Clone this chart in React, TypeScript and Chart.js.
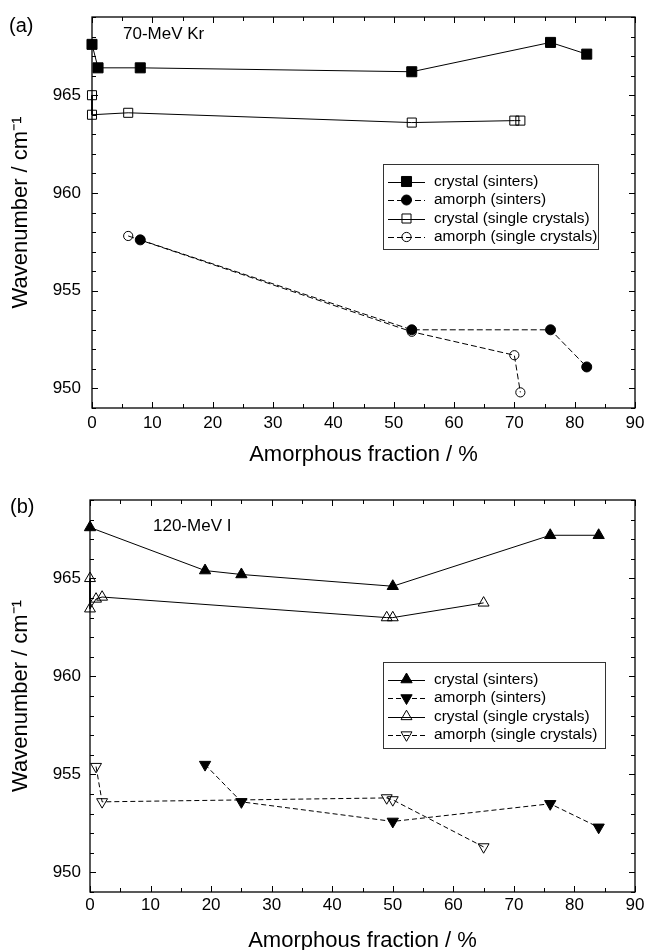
import React, { useEffect, useRef } from 'react';
import { Chart, registerables } from 'chart.js';

Chart.register(...registerables);

const FONT = "'Liberation Sans', Arial, Helvetica, sans-serif";

// ---------- Panel (a): 70-MeV Kr ----------
const aCrystalSintersX = [0, 1, 8, 53, 76, 82];
const aCrystalSintersY = [967.6, 966.4, 966.4, 966.2, 967.7, 967.1];
const aAmorphSintersX = [8, 53, 76, 82];
const aAmorphSintersY = [957.6, 953.0, 953.0, 951.1];
const aCrystalSingleX = [0, 0, 6, 53, 70, 71];
const aCrystalSingleY = [965.0, 964.0, 964.1, 963.6, 963.7, 963.7];
const aAmorphSingleX = [6, 53, 70, 71];
const aAmorphSingleY = [957.8, 952.9, 951.7, 949.8];

// ---------- Panel (b): 120-MeV I ----------
const bCrystalSintersX = [0, 19, 25, 50, 76, 84];
const bCrystalSintersY = [967.6, 965.4, 965.2, 964.6, 967.2, 967.2];
const bAmorphSintersX = [19, 25, 50, 76, 84];
const bAmorphSintersY = [955.5, 953.6, 952.6, 953.5, 952.3];
const bCrystalSingleX = [0, 0, 1, 2, 49, 50, 65];
const bCrystalSingleY = [965.0, 963.45, 963.95, 964.05, 963.0, 963.0, 963.75];
const bAmorphSingleX = [1, 2, 49, 50, 65];
const bAmorphSingleY = [955.4, 953.6, 953.8, 953.7, 951.3];

const legendLabels = [
  'crystal (sinters)',
  'amorph (sinters)',
  'crystal (single crystals)',
  'amorph (single crystals)',
];

const xMajorTicks = [0, 10, 20, 30, 40, 50, 60, 70, 80, 90];
const xMinorTicks = [5, 15, 25, 35, 45, 55, 65, 75, 85];
const yMajorTicks = [950, 955, 960, 965];
const yMinorTicks = [949, 951, 952, 953, 954, 956, 957, 958, 959, 961, 962, 963, 964, 966, 967, 968, 969];

const xTitle = 'Amorphous fraction / %';
const yTitle = 'Wavenumber / cm\u207B\u00B9';

function pts(xs: number[], ys: number[]) {
  return xs.map((x, i) => ({ x, y: ys[i] }));
}

function drawMarker(ctx: CanvasRenderingContext2D, style: string, x: number, y: number, r: number, rot: number, fill: string | null, stroke: string, bw: number) {
  ctx.beginPath();
  if (style === 'rect') {
    const s = r * Math.SQRT1_2;
    ctx.rect(x - s, y - s, 2 * s, 2 * s);
  } else if (style === 'circle') {
    ctx.arc(x, y, r, 0, Math.PI * 2);
  } else {
    let rad = (rot * Math.PI) / 180;
    ctx.moveTo(x + Math.sin(rad) * r, y - Math.cos(rad) * r);
    rad += (2 * Math.PI) / 3;
    ctx.lineTo(x + Math.sin(rad) * r, y - Math.cos(rad) * r);
    rad += (2 * Math.PI) / 3;
    ctx.lineTo(x + Math.sin(rad) * r, y - Math.cos(rad) * r);
    ctx.closePath();
  }
  if (fill) {
    ctx.fillStyle = fill;
    ctx.fill();
  }
  ctx.lineWidth = bw;
  ctx.strokeStyle = stroke;
  ctx.setLineDash([]);
  ctx.stroke();
}

const framePlugin = {
  id: 'frameTicks',
  beforeDatasetsDraw(chart: any) {
    const { ctx, chartArea } = chart;
    const { left, right, top, bottom } = chartArea;
    const xs = chart.scales.x;
    const ys = chart.scales.y;
    ctx.save();
    ctx.strokeStyle = '#000';
    ctx.lineWidth = 1;
    ctx.setLineDash([]);
    const a = (v: number) => Math.round(v) + 0.5;
    ctx.beginPath();
    const xt = (vals: number[], len: number) => {
      vals.forEach((v) => {
        const px = a(xs.getPixelForValue(v));
        ctx.moveTo(px, bottom);
        ctx.lineTo(px, bottom - len);
        ctx.moveTo(px, top);
        ctx.lineTo(px, top + len);
      });
    };
    const yt = (vals: number[], len: number) => {
      vals.forEach((v) => {
        const py = a(ys.getPixelForValue(v));
        ctx.moveTo(left, py);
        ctx.lineTo(left + len, py);
        ctx.moveTo(right, py);
        ctx.lineTo(right - len, py);
      });
    };
    xt(xMajorTicks, 6);
    xt(xMinorTicks, 4);
    yt(yMajorTicks, 6);
    yt(yMinorTicks, 4);
    ctx.stroke();
    ctx.lineWidth = 1.3;
    ctx.strokeRect(a(left) - 0.5, a(top) - 0.5, Math.round(right - left), Math.round(bottom - top));
    ctx.restore();
  },
};

const legendPlugin = {
  id: 'boxLegend',
  afterDraw(chart: any, _args: any, opts: any) {
    const { ctx } = chart;
    ctx.save();
    ctx.setLineDash([]);
    ctx.lineWidth = 1;
    ctx.strokeStyle = '#333';
    ctx.fillStyle = '#fff';
    ctx.fillRect(opts.x, opts.y, opts.w, opts.h);
    ctx.strokeRect(opts.x + 0.5, opts.y + 0.5, opts.w, opts.h);
    chart.data.datasets.forEach((ds: any, i: number) => {
      const ry = opts.y + opts.rows[i];
      ctx.beginPath();
      ctx.setLineDash(ds.borderDash || []);
      ctx.strokeStyle = ds.borderColor;
      ctx.lineWidth = ds.borderWidth;
      ctx.moveTo(opts.lineX1, Math.round(ry) + 0.5);
      ctx.lineTo(opts.lineX2, Math.round(ry) + 0.5);
      ctx.stroke();
      const mx = (opts.lineX1 + opts.lineX2) / 2;
      const fill = ds.pointBackgroundColor === 'rgba(0,0,0,0)' ? null : ds.pointBackgroundColor;
      drawMarker(ctx, ds.pointStyle, mx, ry, ds.pointRadius, ds.pointRotation || 0, fill, ds.pointBorderColor, ds.pointBorderWidth);
      ctx.fillStyle = '#000';
      ctx.font = `${opts.fontSize}px ${FONT}`;
      ctx.textBaseline = 'middle';
      ctx.textAlign = 'left';
      ctx.fillText(ds.label, opts.textX, ry);
    });
    ctx.restore();
  },
};

const textPlugin = {
  id: 'panelText',
  afterDraw(chart: any, _args: any, opts: any) {
    const { ctx } = chart;
    ctx.save();
    ctx.fillStyle = '#000';
    ctx.textBaseline = 'middle';
    ctx.textAlign = 'left';
    (opts.items || []).forEach((t: any) => {
      ctx.font = `${t.size}px ${FONT}`;
      ctx.fillText(t.text, t.x, t.y);
    });
    ctx.restore();
  },
};

type Series = { xs: number[]; ys: number[]; style: string; rot: number; r: number; filled: boolean; dash: number[] };

function makeConfig(p: {
  series: Series[];
  yAxisWidth: number;
  xAxisHeight: number;
  padTop: number;
  yLabelPad: number;
  xLabelPad: number;
  xTitleLH: number;
  xTitlePadBottom: number;
  legend: any;
  texts: any[];
}): any {
  const datasets = p.series.map((s, i) => ({
    label: legendLabels[i],
    data: pts(s.xs, s.ys),
    showLine: true,
    borderColor: '#000',
    borderWidth: 1,
    borderDash: s.dash,
    pointStyle: s.style,
    pointRotation: s.rot,
    pointRadius: s.r,
    pointHoverRadius: s.r,
    pointBackgroundColor: s.filled ? '#000' : 'rgba(0,0,0,0)',
    pointBorderColor: '#000',
    pointBorderWidth: 1,
    clip: false,
    fill: false,
    tension: 0,
  }));
  return {
    type: 'scatter',
    data: { datasets },
    options: {
      animation: false,
      responsive: false,
      devicePixelRatio: 1,
      events: [],
      layout: { padding: { top: p.padTop, right: 10, left: 0, bottom: 0 } },
      plugins: {
        legend: { display: false },
        tooltip: { enabled: false },
        boxLegend: p.legend,
        panelText: { items: p.texts },
      },
      scales: {
        x: {
          type: 'linear',
          position: 'bottom',
          min: 0,
          max: 90,
          grid: { display: false, drawTicks: false },
          border: { display: false },
          ticks: {
            font: { family: FONT, size: 17 },
            color: '#000',
            padding: p.xLabelPad,
            maxRotation: 0,
            autoSkip: false,
          },
          afterBuildTicks: (s: any) => {
            s.ticks = xMajorTicks.map((v) => ({ value: v }));
          },
          afterFit: (s: any) => {
            s.height = p.xAxisHeight;
            s.paddingLeft = 0;
            s.paddingRight = 0;
          },
          title: {
            display: true,
            text: xTitle,
            color: '#000',
            font: { family: FONT, size: 22, lineHeight: p.xTitleLH },
            padding: { top: 0, bottom: p.xTitlePadBottom },
          },
        },
        y: {
          type: 'linear',
          position: 'left',
          min: 949,
          max: 969,
          grid: { display: false, drawTicks: false },
          border: { display: false },
          ticks: {
            font: { family: FONT, size: 17 },
            color: '#000',
            padding: p.yLabelPad,
            autoSkip: false,
          },
          afterBuildTicks: (s: any) => {
            s.ticks = yMajorTicks.map((v) => ({ value: v }));
          },
          afterFit: (s: any) => {
            s.width = p.yAxisWidth;
            s.paddingTop = 0;
            s.paddingBottom = 0;
          },
          title: {
            display: true,
            text: yTitle,
            color: '#000',
            font: { family: FONT, size: 22, lineHeight: 1 },
            padding: { top: 10, bottom: 0 },
          },
        },
      },
    },
    plugins: [framePlugin, legendPlugin, textPlugin],
  };
}

const legendRows = [17.5, 36, 54.5, 73];

const configA = () =>
  makeConfig({
    series: [
      { xs: aCrystalSintersX, ys: aCrystalSintersY, style: 'rect', rot: 0, r: 7.1, filled: true, dash: [] },
      { xs: aAmorphSintersX, ys: aAmorphSintersY, style: 'circle', rot: 0, r: 5, filled: true, dash: [6, 3] },
      { xs: aCrystalSingleX, ys: aCrystalSingleY, style: 'rect', rot: 0, r: 6.4, filled: false, dash: [] },
      { xs: aAmorphSingleX, ys: aAmorphSingleY, style: 'circle', rot: 0, r: 4.6, filled: false, dash: [6, 3] },
    ],
    yAxisWidth: 92,
    xAxisHeight: 62,
    padTop: 17,
    yLabelPad: 11,
    xLabelPad: 5,
    xTitleLH: 1,
    xTitlePadBottom: 4,
    legend: { x: 383, y: 164, w: 215, h: 85, rows: legendRows, lineX1: 388, lineX2: 425, textX: 434, fontSize: 15.4 },
    texts: [
      { text: '(a)', x: 9, y: 26, size: 20 },
      { text: '70-MeV Kr', x: 123, y: 34, size: 17 },
    ],
  });

const configB = () =>
  makeConfig({
    series: [
      { xs: bCrystalSintersX, ys: bCrystalSintersY, style: 'triangle', rot: 0, r: 6.5, filled: true, dash: [] },
      { xs: bAmorphSintersX, ys: bAmorphSintersY, style: 'triangle', rot: 180, r: 6.5, filled: true, dash: [5, 3] },
      { xs: bCrystalSingleX, ys: bCrystalSingleY, style: 'triangle', rot: 0, r: 6.3, filled: false, dash: [] },
      { xs: bAmorphSingleX, ys: bAmorphSingleY, style: 'triangle', rot: 180, r: 6.3, filled: false, dash: [5, 3] },
    ],
    yAxisWidth: 90,
    xAxisHeight: 58,
    padTop: 30,
    yLabelPad: 9,
    xLabelPad: 3,
    xTitleLH: 0.8,
    xTitlePadBottom: 0,
    legend: { x: 383, y: 192, w: 222, h: 86, rows: legendRows, lineX1: 388, lineX2: 425, textX: 434, fontSize: 15.4 },
    texts: [
      { text: '(b)', x: 10, y: 37.5, size: 20 },
      { text: '120-MeV I', x: 153, y: 56, size: 17 },
    ],
  });

function Panel({ top, height, make }: { top: number; height: number; make: () => any }) {
  const ref = useRef<HTMLCanvasElement | null>(null);
  useEffect(() => {
    if (!ref.current) return;
    const chart = new Chart(ref.current, make());
    return () => chart.destroy();
  }, [make]);
  return (
    <canvas
      ref={ref}
      width={645}
      height={height}
      style={{ position: 'absolute', left: 0, top, width: 645, height, display: 'block' }}
    />
  );
}

export default function App() {
  return (
    <div style={{ position: 'absolute', left: 0, top: 0, width: 645, height: 950, background: '#fff', overflow: 'hidden' }}>
      <Panel top={0} height={470} make={configA} />
      <Panel top={470} height={480} make={configB} />
    </div>
  );
}
